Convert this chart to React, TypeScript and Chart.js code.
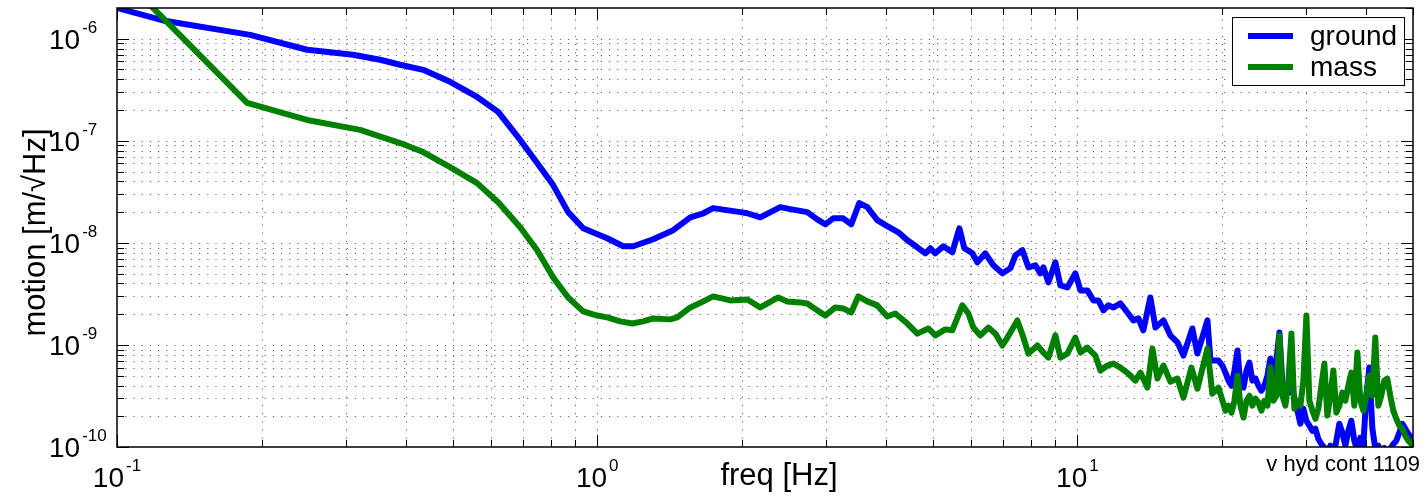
import React, { useEffect, useRef } from 'react';
import { Chart, registerables } from 'chart.js';

Chart.register(...registerables);

// ---- data ----
const groundFreq = [
  0.1, 0.1247, 0.1893, 0.2488, 0.3102, 0.3531, 0.3887, 0.4341, 0.494, 0.5623,
  0.622, 0.6912, 0.7499, 0.8096, 0.87, 0.9351, 1.049, 1.133, 1.189, 1.308,
  1.44, 1.563, 1.664, 1.744, 1.986, 2.054, 2.186, 2.406, 2.524, 2.738,
  2.873, 2.985, 3.102, 3.254, 3.382, 3.514, 3.652, 3.831, 4.019, 4.238,
  4.425, 4.642, 4.824, 4.941, 5.06, 5.258, 5.49, 5.678, 5.816, 6.043,
  6.19, 6.431, 6.683, 6.98, 7.253, 7.429, 7.683, 7.907, 8.177, 8.375,
  8.497, 8.703, 8.999, 9.218, 9.532, 9.905, 10.15, 10.49, 10.8, 11.06,
  11.33, 11.6, 11.89, 12.29, 12.71, 13.08, 13.4, 13.72, 14.19, 14.54,
  15.11, 15.62, 16.16, 16.63, 17.36, 17.78, 18.66, 18.93, 19.67,
  20.05, 20.34, 20.64, 20.94, 21.24, 21.55, 21.86, 22.18, 22.5, 22.82,
  23.15, 23.49, 23.83, 24.17, 24.52, 24.88, 25.24, 25.6, 25.97, 26.35,
  26.73, 27.12, 27.51, 27.91, 28.31, 28.72, 29.14, 29.56, 29.99, 30.42,
  30.86, 31.31, 31.76, 32.22, 32.69, 33.16, 33.64, 34.13, 34.62, 35.12,
  35.63, 36.15, 36.67, 37.2, 37.74, 38.29, 38.84, 39.4, 39.97, 40.55,
  41.14, 41.73, 42.34, 42.95, 43.57, 44.2, 44.84, 45.49, 46.15, 46.82,
  47.5, 48.19, 48.89, 49.6, 50.31,
];
const groundMotion = [
  2.0e-6, 1.51e-6, 1.09e-6, 7.8e-7, 6.97e-7, 6.22e-7, 5.56e-7, 4.96e-7, 3.78e-7, 2.69e-7,
  1.92e-7, 1.02e-7, 6.05e-8, 3.68e-8, 2.0e-8, 1.39e-8, 1.11e-8, 9.26e-9, 9.26e-9, 1.085e-8,
  1.33e-8, 1.78e-8, 1.95e-8, 2.19e-8, 2.0e-8, 1.95e-8, 1.78e-8, 2.24e-8, 2.14e-8, 2.0e-8,
  1.7e-8, 1.52e-8, 1.74e-8, 1.74e-8, 1.52e-8, 2.45e-8, 2.24e-8, 1.67e-8, 1.46e-8, 1.27e-8,
  1.06e-8, 9.05e-9, 7.9e-9, 8.85e-9, 7.9e-9, 9.26e-9, 8.08e-9, 1.39e-8, 8.85e-9, 7.9e-9,
  6.45e-9, 7.9e-9, 6.03e-9, 5.03e-9, 5.63e-9, 7.55e-9, 8.46e-9, 5.76e-9, 6.03e-9, 5.03e-9,
  5.76e-9, 4.1e-9, 6.45e-9, 3.83e-9, 3.66e-9, 5.03e-9, 3.42e-9, 3.42e-9, 2.73e-9, 2.73e-9,
  2.18e-9, 2.44e-9, 2.33e-9, 2.55e-9, 2.08e-9, 1.74e-9, 1.82e-9, 1.39e-9, 2.92e-9, 1.48e-9,
  1.74e-9, 1.24e-9, 1.06e-9, 7.87e-10, 1.45e-9, 8.23e-10, 1.74e-9, 7.03e-10, 7.03e-10,
  6.28e-10, 5.36e-10, 4.47e-10, 3.99e-10, 5.61e-10, 8.81e-10, 3.99e-10, 3.82e-10, 5.61e-10, 6.71e-10,
  4.47e-10, 4.68e-10, 3.99e-10, 3.56e-10, 3.99e-10, 5.01e-10, 7.35e-10, 4.18e-10, 7.03e-10, 1.323e-9,
  4.18e-10, 3.56e-10, 3.41e-10, 3.99e-10, 3.04e-10, 2.27e-10, 1.69e-10, 2.37e-10, 1.81e-10, 1.62e-10,
  1.44e-10, 1.51e-10, 1.2e-10, 1.07e-10, 9.8e-11, 8.8e-11, 1.03e-10, 8.2e-11, 1.15e-10, 1.69e-10,
  1.38e-10, 1.03e-10, 1.44e-10, 1.81e-10, 1.15e-10, 9.2e-11, 1.23e-10, 1.03e-10, 3.18e-10, 6.0e-10,
  1.54e-10, 9.6e-11, 1.03e-10, 8.8e-11, 9.8e-11, 8.2e-11, 9.6e-11, 1.07e-10, 1.15e-10, 1.38e-10,
  1.69e-10, 1.51e-10, 1.35e-10, 1.23e-10, 1.15e-10,
];
const massFreq = [
  0.1, 0.1866, 0.2488, 0.3208, 0.3887, 0.4341, 0.494, 0.5623, 0.622, 0.6912,
  0.7499, 0.8096, 0.87, 0.9351, 1.0, 1.049, 1.117, 1.183, 1.247, 1.308,
  1.419, 1.468, 1.563, 1.664, 1.744, 1.893, 2.054, 2.186, 2.383, 2.488,
  2.648, 2.738, 2.873, 2.985, 3.132, 3.254, 3.382, 3.497, 3.652, 3.831,
  4.019, 4.177, 4.425, 4.642, 4.894, 5.06, 5.309, 5.49, 5.76, 5.929,
  6.073, 6.281, 6.526, 6.75, 6.98, 7.149, 7.499, 7.721, 7.907, 8.254,
  8.497, 8.703, 8.999, 9.218, 9.532, 9.905, 10.15, 10.49, 10.9, 11.17,
  11.55, 11.89, 12.29, 12.77, 13.21, 13.53, 13.99, 14.33, 14.68, 15.11,
  15.62, 16.16, 16.63, 17.28, 17.78, 18.66, 19.1, 19.67,
  20.05, 20.34, 20.64, 20.94, 21.24, 21.55, 21.86, 22.18, 22.5, 22.82,
  23.15, 23.49, 23.83, 24.17, 24.52, 24.88, 25.24, 25.6, 25.97, 26.35,
  26.73, 27.12, 27.51, 27.91, 28.31, 28.72, 29.14, 29.56, 29.99, 30.42,
  30.86, 31.31, 31.76, 32.22, 32.69, 33.16, 33.64, 34.13, 34.62, 35.12,
  35.63, 36.15, 36.67, 37.2, 37.74, 38.29, 38.84, 39.4, 39.97, 40.55,
  41.14, 41.73, 42.34, 42.95, 43.57, 44.2, 44.84, 45.49, 46.15, 46.82,
  47.5, 48.19, 48.89, 49.6, 50.31,
];
const massMotion = [
  4.55e-6, 2.35e-7, 1.6e-7, 1.28e-7, 9.5e-8, 7.76e-8, 5.53e-8, 3.85e-8, 2.5e-8, 1.42e-8,
  8.46e-9, 4.59e-9, 2.92e-9, 2.13e-9, 1.94e-9, 1.86e-9, 1.7e-9, 1.62e-9, 1.7e-9, 1.82e-9,
  1.78e-9, 1.86e-9, 2.33e-9, 2.67e-9, 2.99e-9, 2.73e-9, 2.79e-9, 2.33e-9, 2.92e-9, 2.67e-9,
  2.61e-9, 2.55e-9, 2.18e-9, 1.94e-9, 2.33e-9, 2.28e-9, 2.08e-9, 2.99e-9, 2.67e-9, 2.44e-9,
  1.9e-9, 2.03e-9, 1.62e-9, 1.29e-9, 1.45e-9, 1.24e-9, 1.42e-9, 1.39e-9, 2.44e-9, 2.03e-9,
  1.48e-9, 1.24e-9, 1.48e-9, 1.29e-9, 9.87e-10, 1.18e-9, 1.74e-9, 1.18e-9, 8.23e-10, 9.87e-10,
  8.42e-10, 7.52e-10, 1.24e-9, 7.52e-10, 8.23e-10, 1.18e-9, 8.42e-10, 9.43e-10, 7.87e-10, 5.61e-10,
  6.28e-10, 6.57e-10, 6.0e-10, 5.24e-10, 4.47e-10, 5.36e-10, 3.82e-10, 9.22e-10, 4.68e-10, 6.28e-10,
  4.37e-10, 4.68e-10, 3.04e-10, 6.0e-10, 3.73e-10, 9.22e-10, 3.33e-10, 3.82e-10,
  2.84e-10, 2.27e-10, 2.54e-10, 2.17e-10, 2.84e-10, 5.01e-10, 2.54e-10, 1.94e-10, 2.84e-10, 3.18e-10,
  2.54e-10, 2.98e-10, 2.72e-10, 2.27e-10, 2.84e-10, 2.54e-10, 6.0e-10, 2.84e-10, 3.18e-10, 1.237e-9,
  3.18e-10, 2.54e-10, 4.47e-10, 1.294e-9, 2.37e-10, 2.84e-10, 2.54e-10, 4.47e-10, 1.944e-9, 2.84e-10,
  2.27e-10, 1.89e-10, 2.37e-10, 3.99e-10, 6.57e-10, 2.03e-10, 3.18e-10, 5.61e-10, 2.17e-10, 2.54e-10,
  3.41e-10, 2.84e-10, 3.99e-10, 5.36e-10, 2.54e-10, 8.42e-10, 2.84e-10, 2.27e-10, 3.18e-10, 5.01e-10,
  3.18e-10, 1.182e-9, 2.54e-10, 3.18e-10, 4.47e-10, 4.68e-10, 3.18e-10, 2.27e-10, 1.89e-10, 1.62e-10,
  1.51e-10, 1.29e-10, 1.15e-10, 1.07e-10, 1.03e-10,
];

const seriesLabels = ['ground', 'mass'];
const seriesColors = ['#0000ff', '#008000'];

const xRange = [0.1, 50];
const yRange = [1e-10, 2e-6];
const xMajorTicks = [0.1, 1, 10];
const xTickExponents = ['-1', '0', '1'];
const yMajorTicks = [1e-10, 1e-9, 1e-8, 1e-7, 1e-6];
const yTickExponents = ['-10', '-9', '-8', '-7', '-6'];
const xTitle = 'freq [Hz]';
const yTitle = 'motion [m/\u221AHz]';
const noteText = 'v hyd cont 1109';

const FONT = '"Liberation Sans", Arial, Helvetica, sans-serif';

function logSubTicks(min: number, max: number) {
  const out: { v: number; major: boolean }[] = [];
  const d0 = Math.floor(Math.log10(min));
  const d1 = Math.ceil(Math.log10(max));
  for (let d = d0; d <= d1; d++) {
    for (let k = 1; k <= 9; k++) {
      const v = k * Math.pow(10, d);
      if (v >= min * 0.9999 && v <= max * 1.0001) out.push({ v, major: k === 1 });
    }
  }
  return out;
}

const matlabAxes = {
  id: 'matlabAxes',
  beforeDatasetsDraw(chart: any) {
    const { ctx, chartArea: a, scales } = chart;
    const xs = scales.x;
    const ys = scales.y;
    ctx.save();
    ctx.beginPath();
    ctx.rect(a.left, a.top, a.right - a.left, a.bottom - a.top);
    ctx.clip();
    ctx.strokeStyle = 'rgba(0,0,0,0.6)';
    ctx.lineWidth = 1;
    ctx.setLineDash([1.2, 7]);
    ctx.beginPath();
    for (const t of logSubTicks(xRange[0], xRange[1])) {
      const px = Math.round(xs.getPixelForValue(t.v)) + 0.5;
      if (px <= a.left + 1 || px >= a.right - 1) continue;
      ctx.moveTo(px, a.bottom);
      ctx.lineTo(px, a.top);
    }
    for (const t of logSubTicks(yRange[0], yRange[1])) {
      const py = Math.round(ys.getPixelForValue(t.v)) + 0.5;
      if (py <= a.top + 1 || py >= a.bottom - 1) continue;
      ctx.moveTo(a.left, py);
      ctx.lineTo(a.right, py);
    }
    ctx.stroke();
    ctx.restore();
  },
  afterDatasetsDraw(chart: any) {
    const { ctx, chartArea: a, scales } = chart;
    const xs = scales.x;
    const ys = scales.y;
    ctx.save();
    ctx.setLineDash([]);
    ctx.strokeStyle = '#000';
    ctx.lineWidth = 1;
    // tick marks on all four sides
    ctx.beginPath();
    for (const t of logSubTicks(xRange[0], xRange[1])) {
      const px = Math.round(xs.getPixelForValue(t.v)) + 0.5;
      const len = t.major ? 12 : 7;
      ctx.moveTo(px, a.bottom);
      ctx.lineTo(px, a.bottom - len);
      ctx.moveTo(px, a.top);
      ctx.lineTo(px, a.top + len);
    }
    for (const t of logSubTicks(yRange[0], yRange[1])) {
      const py = Math.round(ys.getPixelForValue(t.v)) + 0.5;
      const len = t.major ? 12 : 7;
      ctx.moveTo(a.left, py);
      ctx.lineTo(a.left + len, py);
      ctx.moveTo(a.right, py);
      ctx.lineTo(a.right - len, py);
    }
    ctx.stroke();
    // box
    ctx.lineWidth = 1.5;
    ctx.strokeRect(a.left, a.top, a.right - a.left, a.bottom - a.top);

    // tick labels
    ctx.fillStyle = '#000';
    ctx.textBaseline = 'alphabetic';
    ctx.textAlign = 'left';
    const baseFont = `28px ${FONT}`;
    const expFont = `17px ${FONT}`;
    ctx.font = baseFont;
    const w10 = ctx.measureText('10').width;
    yMajorTicks.forEach((v, i) => {
      const py = ys.getPixelForValue(v);
      ctx.font = baseFont;
      ctx.fillText('10', 49, py + 10);
      ctx.font = expFont;
      ctx.fillText(yTickExponents[i], 49 + w10 + 2, py - 6);
    });
    xMajorTicks.forEach((v, i) => {
      const px = xs.getPixelForValue(v);
      ctx.font = expFont;
      const we = ctx.measureText(xTickExponents[i]).width;
      const start = px - (w10 + 2 + we) / 2;
      ctx.font = baseFont;
      ctx.fillText('10', start, a.bottom + 40);
      ctx.font = expFont;
      ctx.fillText(xTickExponents[i], start + w10 + 2, a.bottom + 24);
    });

    // axis titles
    ctx.font = `31px ${FONT}`;
    ctx.textAlign = 'center';
    ctx.fillText(xTitle, (a.left + a.right) / 2 + 14, a.bottom + 38);
    ctx.save();
    ctx.translate(45, (a.top + a.bottom) / 2 + 5);
    ctx.rotate(-Math.PI / 2);
    ctx.fillText(yTitle, 0, 0);
    ctx.restore();

    // note
    ctx.font = `22px ${FONT}`;
    ctx.textAlign = 'right';
    ctx.fillText(noteText, 1420, a.bottom + 24);

    // legend
    const lw = 172;
    const lh = 68;
    const lx = a.right - 9 - lw;
    const ly = a.top + 9;
    ctx.fillStyle = '#fff';
    ctx.fillRect(lx, ly, lw, lh);
    ctx.strokeStyle = '#000';
    ctx.lineWidth = 1;
    ctx.strokeRect(lx + 0.5, ly + 0.5, lw, lh);
    ctx.font = `28px ${FONT}`;
    ctx.textAlign = 'left';
    ctx.textBaseline = 'middle';
    chart.data.datasets.forEach((ds: any, i: number) => {
      const cy = ly + 19 + i * 31;
      ctx.strokeStyle = ds.borderColor;
      ctx.lineWidth = 6;
      ctx.beginPath();
      ctx.moveTo(lx + 16, cy);
      ctx.lineTo(lx + 61, cy);
      ctx.stroke();
      ctx.fillStyle = '#000';
      ctx.fillText(ds.label, lx + 78, cy + 1);
    });
    ctx.restore();
  },
};

export default function App() {
  const canvasRef = useRef<HTMLCanvasElement | null>(null);

  useEffect(() => {
    document.body.style.margin = '0';
    const canvas = canvasRef.current;
    if (!canvas) return;
    const makeData = (fs: number[], vs: number[]) => fs.map((f, i) => ({ x: f, y: vs[i] }));
    const hideScale = (s: any) => {
      if (s.isHorizontal()) s.height = 0;
      else s.width = 0;
    };
    const chart = new Chart(canvas, {
      type: 'line',
      data: {
        datasets: [
          {
            label: seriesLabels[0],
            data: makeData(groundFreq, groundMotion),
            borderColor: seriesColors[0],
            backgroundColor: seriesColors[0],
            borderWidth: 6,
            pointRadius: 0,
            tension: 0,
            borderJoinStyle: 'round',
            borderCapStyle: 'round',
            clip: 0,
            order: 1,
          },
          {
            label: seriesLabels[1],
            data: makeData(massFreq, massMotion),
            borderColor: seriesColors[1],
            backgroundColor: seriesColors[1],
            borderWidth: 6,
            pointRadius: 0,
            tension: 0,
            borderJoinStyle: 'round',
            borderCapStyle: 'round',
            clip: 0,
            order: 0,
          },
        ],
      },
      options: {
        animation: false,
        responsive: false,
        devicePixelRatio: 1,
        events: [],
        layout: { padding: { left: 117, right: 13, top: 8, bottom: 50 } },
        plugins: {
          legend: { display: false },
          tooltip: { enabled: false },
          title: { display: false },
        },
        scales: {
          x: {
            type: 'logarithmic',
            min: xRange[0],
            max: xRange[1],
            ticks: { display: false },
            grid: { display: false },
            border: { display: false },
            afterFit: hideScale,
          },
          y: {
            type: 'logarithmic',
            min: yRange[0],
            max: yRange[1],
            ticks: { display: false },
            grid: { display: false },
            border: { display: false },
            afterFit: hideScale,
          },
        },
      } as any,
      plugins: [matlabAxes],
    });
    return () => chart.destroy();
  }, []);

  return (
    <div style={{ width: 1426, height: 497, background: '#fff' }}>
      <canvas ref={canvasRef} width={1426} height={497} style={{ display: 'block' }} />
    </div>
  );
}
